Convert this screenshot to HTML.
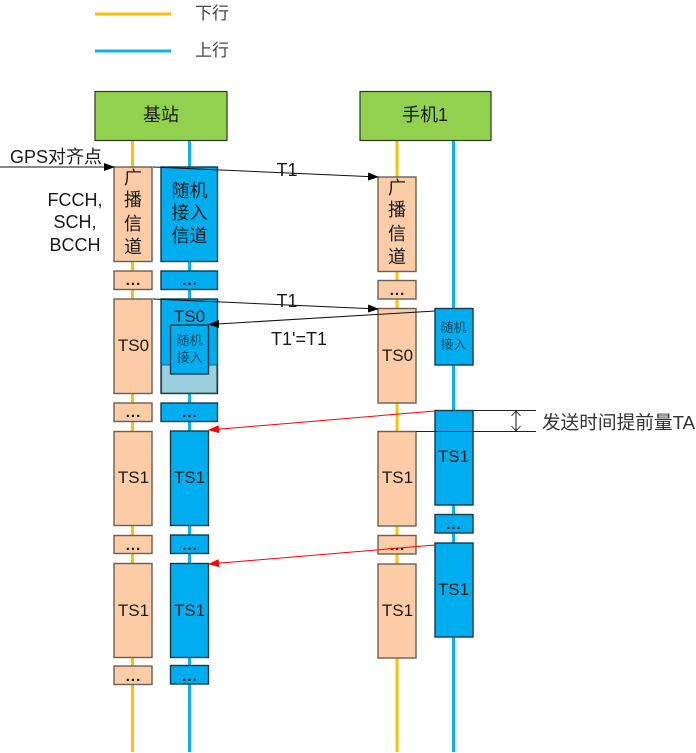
<!DOCTYPE html>
<html><head><meta charset="utf-8"><style>
html,body{margin:0;padding:0;background:#fff;width:696px;height:753px;overflow:hidden}
svg{display:block}
text{font-family:"Liberation Sans","Noto Sans CJK SC",sans-serif;fill:#1a1a1a;text-anchor:middle}
.o{fill:#fbcca6;stroke:#6a5f55;stroke-width:1.4}
.b{fill:#00aeef;stroke:#153a4a;stroke-width:1.4}
.g{fill:#92d050;stroke:#2a3a1a;stroke-width:1.2}
.yl{stroke:#ffc000;stroke-width:3;fill:none}
.bl{stroke:#0fb2ee;stroke-width:3;fill:none}
.t{font-size:18px}
.s{font-size:17px}
.d{font-size:15px;font-weight:bold;letter-spacing:1px}
.m{font-size:13px;fill:#0d4a60}
</style></head><body>
<svg width="696" height="753" viewBox="0 0 696 753" xmlns="http://www.w3.org/2000/svg">
<defs>
<marker id="ak" markerWidth="11" markerHeight="8" refX="10" refY="4" orient="auto" markerUnits="userSpaceOnUse"><path d="M0 0L11 4L0 8z" fill="#000"/></marker>
<marker id="ar" markerWidth="11" markerHeight="8" refX="10" refY="4" orient="auto" markerUnits="userSpaceOnUse"><path d="M0 0L11 4L0 8z" fill="#f00"/></marker>
</defs>
<line class="yl" x1="95" y1="14" x2="171" y2="14"/>
<line class="bl" x1="95" y1="51" x2="171" y2="51"/>
<text class="s" x="212" y="19" style="fill:#444">下行</text>
<text class="s" x="212" y="56" style="fill:#444">上行</text>

<line class="yl" x1="132.5" y1="140" x2="132.5" y2="752"/>
<line class="bl" x1="189.5" y1="140" x2="189.5" y2="752"/>
<line class="yl" x1="397" y1="140" x2="397" y2="752"/>
<line class="bl" x1="453.5" y1="140" x2="453.5" y2="752"/>

<rect class="g" x="95" y="91.5" width="132" height="49"/>
<text class="t" x="161" y="121">基站</text>
<rect class="g" x="360" y="91.5" width="131" height="49"/>
<text class="t" x="425" y="121">手机1</text>

<!-- base left -->
<rect class="o" x="114" y="167" width="38" height="94.500"/>
<text class="t" x="133" y="184">广</text><text class="t" x="133" y="206">播</text><text class="t" x="133" y="230">信</text><text class="t" x="133" y="253">道</text>
<rect class="o" x="114" y="271" width="38" height="18.500"/><text class="d" x="133.500" y="285">...</text>
<rect class="o" x="114" y="299" width="38" height="94.500"/><text class="s" x="133.500" y="351">TS0</text>
<rect class="o" x="114" y="403" width="38" height="18.500"/><text class="d" x="133.500" y="417">...</text>
<rect class="o" x="114" y="431.500" width="38" height="94"/><text class="s" x="133.500" y="483">TS1</text>
<rect class="o" x="114" y="535.500" width="38" height="18"/><text class="d" x="133.500" y="550">...</text>
<rect class="o" x="114" y="563.500" width="38" height="94"/><text class="s" x="133.500" y="616">TS1</text>
<rect class="o" x="114" y="666" width="38" height="18.500"/><text class="d" x="133.500" y="681">...</text>

<!-- base right -->
<rect class="b" x="161" y="167" width="56.500" height="94.500"/>
<text class="t" x="189.500" y="197">随机</text><text class="t" x="189.500" y="219">接入</text><text class="t" x="189.500" y="242">信道</text>
<rect class="b" x="161" y="271" width="56.500" height="18.500"/><text class="d" x="190" y="285">...</text>
<rect class="b" x="161" y="299" width="56.500" height="94.500"/>
<rect x="161.700" y="365" width="55.100" height="28" fill="#9ccfde" stroke="#24505c" stroke-width=".8"/>
<text class="s" x="189.500" y="322">TS0</text>
<rect class="b" x="170.500" y="325" width="38" height="49"/>
<text class="m" x="189.500" y="345">随机</text><text class="m" x="189.500" y="362">接入</text>
<rect class="b" x="161" y="403" width="56.500" height="18.500"/><text class="d" x="190" y="417">...</text>
<rect class="b" x="170.500" y="431" width="38" height="94.500"/><text class="s" x="189.500" y="483">TS1</text>
<rect class="b" x="170.500" y="535" width="38" height="18.500"/><text class="d" x="190" y="550">...</text>
<rect class="b" x="170.500" y="563.500" width="38" height="94"/><text class="s" x="189.500" y="616">TS1</text>
<rect class="b" x="170.500" y="665.500" width="38" height="18.500"/><text class="d" x="190" y="681">...</text>

<!-- phone left -->
<rect class="o" x="378" y="177" width="38" height="94.500"/>
<text class="t" x="397" y="194">广</text><text class="t" x="397" y="216">播</text><text class="t" x="397" y="240">信</text><text class="t" x="397" y="263">道</text>
<rect class="o" x="378" y="280.500" width="38" height="18.500"/><text class="d" x="397.500" y="295">...</text>
<rect class="o" x="378" y="308.500" width="38" height="94.500"/><text class="s" x="397.500" y="361">TS0</text>
<rect class="o" x="378" y="431.500" width="38" height="94.500"/><text class="s" x="397.500" y="483">TS1</text>
<rect class="o" x="378" y="535.500" width="38" height="18.500"/><text class="d" x="397.500" y="550">...</text>
<rect class="o" x="378" y="564" width="38" height="94"/><text class="s" x="397.500" y="616">TS1</text>

<!-- phone right -->
<rect class="b" x="435" y="308.500" width="38" height="56.500"/>
<text class="m" x="453.500" y="332">随机</text><text class="m" x="453.500" y="349">接入</text>
<rect class="b" x="435" y="410.500" width="38" height="94.500"/><text class="s" x="453.500" y="462">TS1</text>
<rect class="b" x="435" y="514.500" width="38" height="18.500"/><text class="d" x="454" y="529">...</text>
<rect class="b" x="435" y="543" width="38" height="94"/><text class="s" x="453.500" y="595">TS1</text>

<!-- connectors -->
<line x1="0" y1="167" x2="114" y2="167" stroke="#111" stroke-width="1" marker-end="url(#ak)"/>
<line x1="153" y1="167" x2="378" y2="177" stroke="#111" stroke-width="1" marker-end="url(#ak)"/>
<line x1="153" y1="299" x2="378" y2="309" stroke="#111" stroke-width="1" marker-end="url(#ak)"/>
<line x1="435" y1="311" x2="209" y2="324.500" stroke="#111" stroke-width="1" marker-end="url(#ak)"/>
<line x1="435" y1="411" x2="209" y2="430" stroke="#f00" stroke-width="1" marker-end="url(#ar)"/>
<line x1="435" y1="545" x2="209" y2="564" stroke="#f00" stroke-width="1" marker-end="url(#ar)"/>
<line x1="473" y1="410.500" x2="536" y2="410.500" stroke="#222" stroke-width="1"/>
<line x1="416" y1="431.500" x2="536" y2="431.500" stroke="#222" stroke-width="1"/>
<line x1="516" y1="411" x2="516" y2="431" stroke="#111" stroke-width="1"/>
<path d="M511.500 416L516 411L520.500 416M511.500 426L516 431L520.500 426" fill="none" stroke="#111" stroke-width=".8"/>

<!-- labels -->
<text class="t" x="56" y="163">GPS对齐点</text>
<text class="t" x="75" y="206">FCCH,</text>
<text class="t" x="75" y="228">SCH,</text>
<text class="t" x="75" y="251">BCCH</text>
<text class="t" x="287" y="176">T1</text>
<text class="t" x="287" y="307">T1</text>
<text class="t" x="299" y="345">T1'=T1</text>
<text x="618.500" y="429" style="font-size:18.700px;fill:#333">发送时间提前量TA</text>
</svg>
</body></html>
